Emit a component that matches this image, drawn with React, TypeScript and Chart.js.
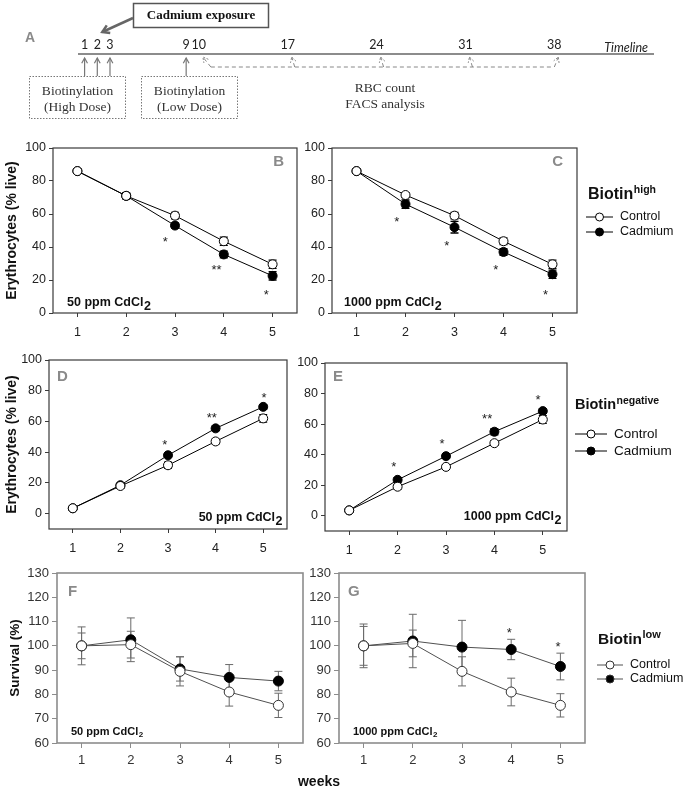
import React, { useEffect, useRef } from "react";
import { Chart, registerables } from "chart.js";
Chart.register(...registerables);

const SANS = "'Liberation Sans', Arial, sans-serif";
const SERIF = "'Liberation Serif', 'Times New Roman', serif";
const CAL = "Lato, 'Open Sans', sans-serif";

// ---------------- data ----------------
const weeks = [1, 2, 3, 4, 5];
const erythroTicks = [0, 20, 40, 60, 80, 100];
const survivalTicks = [60, 70, 80, 90, 100, 110, 120, 130];

// Panel B: Biotin high, 50 ppm
const controlB = [86, 71, 59, 43.5, 29.5];
const cadmiumB = [86, 71, 53, 35.5, 22.5];
const controlBErr = [1, 1.5, 2, 2.5, 2.5];
const cadmiumBErr = [1, 2, 1.5, 2, 2.5];
const starsB = [
  { x: 2.8, y: 45, t: "*" },
  { x: 3.85, y: 28, t: "**" },
  { x: 4.87, y: 13, t: "*" },
];

// Panel C: Biotin high, 1000 ppm
const controlC = [86, 71.5, 59, 43.5, 29.5];
const cadmiumC = [86, 66, 52, 37, 23.5];
const controlCErr = [1, 1.5, 2, 2, 2.5];
const cadmiumCErr = [1, 2.5, 3.5, 2, 2.5];
const starsC = [
  { x: 1.82, y: 57, t: "*" },
  { x: 2.84, y: 42.5, t: "*" },
  { x: 3.84, y: 28, t: "*" },
  { x: 4.86, y: 13, t: "*" },
];

// Panel D: Biotin negative, 50 ppm
const controlD = [3.5, 18, 31.5, 47, 62];
const cadmiumD = [3.5, 18.5, 38, 55.5, 69.5];
const controlDErr = [1, 1.5, 2, 1.5, 2.5];
const cadmiumDErr = [1, 1, 1, 1.5, 1.5];
const starsD = [
  { x: 2.93, y: 46.5, t: "*" },
  { x: 3.92, y: 64, t: "**" },
  { x: 5.02, y: 77.5, t: "*" },
];

// Panel E: Biotin negative, 1000 ppm
const controlE = [3.5, 19, 32, 47.5, 63];
const cadmiumE = [3.5, 23.5, 39, 55, 68.5];
const controlEErr = [1, 1.5, 1.5, 1.5, 2.5];
const cadmiumEErr = [1, 1.5, 1.5, 2, 1.5];
const starsE = [
  { x: 1.92, y: 34, t: "*" },
  { x: 2.92, y: 49, t: "*" },
  { x: 3.85, y: 65.5, t: "**" },
  { x: 4.9, y: 78, t: "*" },
];

// Panel F: Biotin low, 50 ppm (survival)
const controlF = [100, 100.5, 89.5, 81, 75.5];
const cadmiumF = [100, 102.5, 90.5, 87, 85.5];
const controlFErr = [7.8, 5.5, 6, 5.8, 5];
const cadmiumFErr = [5.3, 9, 5, 5.3, 4];
const starsF: { x: number; y: number; t: string }[] = [];

// Panel G: Biotin low, 1000 ppm (survival)
const controlG = [100, 101, 89.5, 81, 75.5];
const cadmiumG = [100, 102, 99.5, 98.5, 91.5];
const controlGErr = [8, 5.5, 6, 5.7, 4.8];
const cadmiumGErr = [9, 11, 11, 4.2, 5.5];
const starsG = [
  { x: 3.96, y: 106.5, t: "*" },
  { x: 4.95, y: 100.6, t: "*" },
];

// Timeline (panel A)
const timelineDays = [1, 2, 3, 9, 10, 17, 24, 31, 38];
const highDoseDays = [1, 2, 3];
const lowDoseDays = [9];
const sampleDays = [10, 17, 24, 31, 38];
const exposureStartDay = 2;

// ---------------- styles ----------------
const X_AXIS_H = 30;

const STYLES: any = {
  ery: {
    line: "#000", markerBorder: "#000", err: "#000", errW: 1.3, cap: 4, radius: 4.5,
    frame: "#3a3a3a", frameW: 1.2, tick: "#3a3a3a", tickLen: 4, label: "#222",
    tickFont: 12.5, xPad: 8,
  },
  surv: {
    line: "#505050", markerBorder: "#333", err: "#6a6a6a", errW: 1, cap: 4, radius: 5,
    frame: "#8c8c8c", frameW: 1.6, tick: "#8c8c8c", tickLen: 5, label: "#333",
    tickFont: 13, xPad: 5,
  },
};

const panels: any[] = [
  {
    canvas: { x: 0, y: 123, w: 340, h: 225 },
    area: { l: 53, t: 148, r: 297, b: 313 },
    yMin: 0, yMax: 100, yTicks: erythroTicks,
    control: controlB, cadmium: cadmiumB, controlErr: controlBErr, cadmiumErr: cadmiumBErr, stars: starsB,
    style: "ery",
    letter: { text: "B", x: 284, y: 162, align: "right" },
    conc: { text: "50 ppm CdCl", x: 67, y: 303, align: "left", size: 12.5, sub: 12.5, drop: 4 },
    yTitle: { text: "Erythrocytes (% live)", x: 12, size: 14 },
  },
  {
    canvas: { x: 290, y: 123, w: 393, h: 225 },
    area: { l: 332, t: 148, r: 577, b: 313 },
    yMin: 0, yMax: 100, yTicks: erythroTicks,
    control: controlC, cadmium: cadmiumC, controlErr: controlCErr, cadmiumErr: cadmiumCErr, stars: starsC,
    style: "ery",
    letter: { text: "C", x: 563, y: 162, align: "right" },
    conc: { text: "1000 ppm CdCl", x: 344, y: 303, align: "left", size: 12.5, sub: 12.5, drop: 4 },
    legend: { sup: "high", x: 588, y: 193, titleSize: 16, supSize: 10.5, lx: 586, len: 27, rows: [217, 232], size: 12.5 },
  },
  {
    canvas: { x: 0, y: 335, w: 340, h: 229 },
    area: { l: 49, t: 360, r: 287, b: 529 },
    yMin: -10, yMax: 100, yTicks: erythroTicks,
    control: controlD, cadmium: cadmiumD, controlErr: controlDErr, cadmiumErr: cadmiumDErr, stars: starsD,
    style: "ery",
    letter: { text: "D", x: 57, y: 377, align: "left" },
    conc: { text: "50 ppm CdCl", x: 282, y: 518, align: "right", size: 12.5, sub: 12.5, drop: 4 },
    yTitle: { text: "Erythrocytes (% live)", x: 12, size: 14 },
  },
  {
    canvas: { x: 290, y: 335, w: 393, h: 231 },
    area: { l: 325, t: 363, r: 567, b: 531 },
    yMin: -10, yMax: 100, yTicks: erythroTicks,
    control: controlE, cadmium: cadmiumE, controlErr: controlEErr, cadmiumErr: cadmiumEErr, stars: starsE,
    style: "ery",
    letter: { text: "E", x: 333, y: 377, align: "left" },
    conc: { text: "1000 ppm CdCl", x: 561, y: 517, align: "right", size: 12.5, sub: 12.5, drop: 4 },
    legend: { sup: "negative", x: 575, y: 404, titleSize: 14.5, supSize: 10.5, lx: 575, len: 32, rows: [434, 451], size: 13.5 },
  },
  {
    canvas: { x: 0, y: 548, w: 345, h: 241 },
    area: { l: 57, t: 573, r: 303, b: 743 },
    yMin: 60, yMax: 130, yTicks: survivalTicks,
    control: controlF, cadmium: cadmiumF, controlErr: controlFErr, cadmiumErr: cadmiumFErr, stars: starsF,
    style: "surv",
    letter: { text: "F", x: 68, y: 592, align: "left" },
    conc: { text: "50 ppm CdCl", x: 71, y: 732, align: "left", size: 11, sub: 8, drop: 3 },
    yTitle: { text: "Survival (%)", x: 15, size: 13.5 },
    weeks: { text: "weeks", x: 319, y: 782 },
  },
  {
    canvas: { x: 290, y: 548, w: 393, h: 241 },
    area: { l: 339, t: 573, r: 585, b: 743 },
    yMin: 60, yMax: 130, yTicks: survivalTicks,
    control: controlG, cadmium: cadmiumG, controlErr: controlGErr, cadmiumErr: cadmiumGErr, stars: starsG,
    style: "surv",
    letter: { text: "G", x: 348, y: 592, align: "left" },
    conc: { text: "1000 ppm CdCl", x: 353, y: 732, align: "left", size: 11, sub: 8, drop: 3 },
    legend: { sup: "low", x: 598, y: 638, titleSize: 15.5, supSize: 11, lx: 597, len: 26, rows: [665, 679], size: 12.5 },
  },
];

// ---------------- drawing helpers ----------------
function drawMarker(ctx: CanvasRenderingContext2D, x: number, y: number, r: number, fill: string, stroke: string) {
  ctx.beginPath();
  ctx.arc(x, y, r, 0, Math.PI * 2);
  ctx.fillStyle = fill;
  ctx.fill();
  ctx.lineWidth = 1;
  ctx.strokeStyle = stroke;
  ctx.stroke();
}

function arrowHead(ctx: CanvasRenderingContext2D, x1: number, y1: number, x2: number, y2: number, len: number, ang: number) {
  const a = Math.atan2(y2 - y1, x2 - x1);
  ctx.beginPath();
  ctx.moveTo(x2 - len * Math.cos(a - ang), y2 - len * Math.sin(a - ang));
  ctx.lineTo(x2, y2);
  ctx.lineTo(x2 - len * Math.cos(a + ang), y2 - len * Math.sin(a + ang));
  ctx.stroke();
}

function makePanelPlugin(cfg: any) {
  const st = STYLES[cfg.style];
  const ox = cfg.canvas.x;
  const oy = cfg.canvas.y;
  return {
    id: "panelDecor",
    beforeDatasetsDraw(chart: any) {
      const ctx = chart.ctx as CanvasRenderingContext2D;
      const xs = chart.scales.x;
      const ys = chart.scales.y;
      ctx.save();
      ctx.strokeStyle = st.err;
      ctx.lineWidth = st.errW;
      chart.data.datasets.forEach((ds: any) => {
        ds.data.forEach((p: any, i: number) => {
          const e = ds.errors[i];
          const x = xs.getPixelForValue(p.x);
          const yt = ys.getPixelForValue(p.y + e);
          const yb = ys.getPixelForValue(p.y - e);
          ctx.beginPath();
          ctx.moveTo(x, yt);
          ctx.lineTo(x, yb);
          ctx.moveTo(x - st.cap, yt);
          ctx.lineTo(x + st.cap, yt);
          ctx.moveTo(x - st.cap, yb);
          ctx.lineTo(x + st.cap, yb);
          ctx.stroke();
        });
      });
      ctx.restore();
    },
    afterDraw(chart: any) {
      const ctx = chart.ctx as CanvasRenderingContext2D;
      const ca = chart.chartArea;
      const xs = chart.scales.x;
      const ys = chart.scales.y;
      ctx.save();
      // frame
      ctx.strokeStyle = st.frame;
      ctx.lineWidth = st.frameW;
      ctx.strokeRect(ca.left, ca.top, ca.right - ca.left, ca.bottom - ca.top);

      // panel letter
      ctx.fillStyle = "#8a8a8a";
      ctx.font = `bold 15px ${SANS}`;
      ctx.textBaseline = "middle";
      ctx.textAlign = cfg.letter.align;
      ctx.fillText(cfg.letter.text, cfg.letter.x - ox, cfg.letter.y - oy);

      // concentration label with subscript
      const c = cfg.conc;
      ctx.fillStyle = "#111";
      ctx.font = `bold ${c.size}px ${SANS}`;
      const w1 = ctx.measureText(c.text).width;
      ctx.font = `bold ${c.sub}px ${SANS}`;
      const w2 = ctx.measureText("2").width;
      const startX = c.align === "left" ? c.x - ox : c.x - ox - w1 - w2;
      ctx.textAlign = "left";
      ctx.textBaseline = "middle";
      ctx.font = `bold ${c.size}px ${SANS}`;
      ctx.fillText(c.text, startX, c.y - oy);
      ctx.font = `bold ${c.sub}px ${SANS}`;
      ctx.fillText("2", startX + w1 + 0.5, c.y - oy + c.drop);

      // significance stars
      ctx.fillStyle = "#222";
      ctx.font = `13px ${SANS}`;
      ctx.textAlign = "center";
      ctx.textBaseline = "alphabetic";
      cfg.stars.forEach((s: any) => {
        ctx.fillText(s.t, xs.getPixelForValue(s.x), ys.getPixelForValue(s.y) + 7);
      });

      // y title
      if (cfg.yTitle) {
        ctx.save();
        ctx.translate(cfg.yTitle.x - ox, (ca.top + ca.bottom) / 2);
        ctx.rotate(-Math.PI / 2);
        ctx.fillStyle = "#111";
        ctx.font = `bold ${cfg.yTitle.size}px ${SANS}`;
        ctx.textAlign = "center";
        ctx.textBaseline = "middle";
        ctx.fillText(cfg.yTitle.text, 0, 0);
        ctx.restore();
      }

      // weeks label
      if (cfg.weeks) {
        ctx.fillStyle = "#111";
        ctx.font = `bold 14px ${SANS}`;
        ctx.textAlign = "center";
        ctx.textBaseline = "middle";
        ctx.fillText(cfg.weeks.text, cfg.weeks.x - ox, cfg.weeks.y - oy);
      }

      // legend
      if (cfg.legend) {
        const L = cfg.legend;
        ctx.fillStyle = "#111";
        ctx.textAlign = "left";
        ctx.textBaseline = "alphabetic";
        ctx.font = `bold ${L.titleSize}px ${SANS}`;
        const base = L.y - oy + L.titleSize * 0.36;
        ctx.fillText("Biotin", L.x - ox, base);
        const bw = ctx.measureText("Biotin").width;
        ctx.font = `bold ${L.supSize}px ${SANS}`;
        ctx.fillText(L.sup, L.x - ox + bw + 0.5, base - L.titleSize * 0.38);
        const entries = [
          { name: "Control", fill: "#fff" },
          { name: "Cadmium", fill: "#000" },
        ];
        entries.forEach((en, i) => {
          const yy = L.rows[i] - oy;
          const x0 = L.lx - ox;
          ctx.strokeStyle = st.line;
          ctx.lineWidth = 1;
          ctx.beginPath();
          ctx.moveTo(x0, yy);
          ctx.lineTo(x0 + L.len, yy);
          ctx.stroke();
          drawMarker(ctx, x0 + L.len / 2, yy, 4, en.fill, st.markerBorder);
          ctx.fillStyle = "#111";
          ctx.font = `${L.size}px ${SANS}`;
          ctx.textBaseline = "middle";
          ctx.fillText(en.name, x0 + L.len + 7, yy);
        });
      }
      ctx.restore();
    },
  };
}

function Panel({ cfg }: { cfg: any }) {
  const ref = useRef<HTMLCanvasElement | null>(null);
  const c = cfg.canvas;
  useEffect(() => {
    const st = STYLES[cfg.style];
    const tickFont = { family: SANS, size: st.tickFont };
    const chart = new Chart(ref.current as HTMLCanvasElement, {
      type: "line",
      data: {
        datasets: [
          {
            label: "Control",
            data: weeks.map((w, i) => ({ x: w, y: cfg.control[i] })),
            errors: cfg.controlErr,
            borderColor: st.line,
            borderWidth: 1,
            pointBackgroundColor: "#fff",
            pointBorderColor: st.markerBorder,
            pointBorderWidth: 1,
            pointRadius: st.radius,
            fill: false,
            tension: 0,
          } as any,
          {
            label: "Cadmium",
            data: weeks.map((w, i) => ({ x: w, y: cfg.cadmium[i] })),
            errors: cfg.cadmiumErr,
            borderColor: st.line,
            borderWidth: 1,
            pointBackgroundColor: "#000",
            pointBorderColor: "#000",
            pointBorderWidth: 1,
            pointRadius: st.radius,
            fill: false,
            tension: 0,
          } as any,
        ],
      },
      options: {
        animation: false,
        responsive: false,
        events: [],
        layout: {
          autoPadding: false,
          padding: {
            left: 0,
            top: cfg.area.t - c.y,
            right: c.x + c.w - cfg.area.r,
            bottom: c.y + c.h - cfg.area.b - X_AXIS_H,
          },
        },
        plugins: { legend: { display: false }, tooltip: { enabled: false } },
        scales: {
          x: {
            type: "linear",
            min: 0.5,
            max: 5.5,
            afterBuildTicks: (s: any) => {
              s.ticks = weeks.map((v) => ({ value: v }));
            },
            afterFit: (s: any) => {
              s.height = X_AXIS_H;
            },
            grid: { drawOnChartArea: false, drawTicks: true, tickLength: st.tickLen, color: st.tick, lineWidth: 1 },
            border: { display: false },
            ticks: { font: tickFont, color: st.label, padding: st.xPad, maxRotation: 0 },
          },
          y: {
            type: "linear",
            min: cfg.yMin,
            max: cfg.yMax,
            afterBuildTicks: (s: any) => {
              s.ticks = cfg.yTicks.map((v: number) => ({ value: v }));
            },
            afterFit: (s: any) => {
              s.width = cfg.area.l - c.x;
            },
            grid: { drawOnChartArea: false, drawTicks: true, tickLength: st.tickLen, color: st.tick, lineWidth: 1 },
            border: { display: false },
            ticks: { font: tickFont, color: st.label, padding: 3 },
          },
        },
      } as any,
      plugins: [makePanelPlugin(cfg)],
    });
    return () => chart.destroy();
  }, []);
  return (
    <canvas
      ref={ref}
      width={c.w}
      height={c.h}
      style={{ position: "absolute", left: c.x, top: c.y, width: c.w, height: c.h }}
    />
  );
}

const timelinePlugin = {
  id: "timeline",
  afterDraw(chart: any) {
    const ctx = chart.ctx as CanvasRenderingContext2D;
    const ca = chart.chartArea;
    const xs = chart.scales.x;
    const X = (d: number) => xs.getPixelForValue(d);
    const LINE_Y = 54;
    ctx.save();

    // panel letter
    ctx.fillStyle = "#8a8a8a";
    ctx.font = `bold 14px ${SANS}`;
    ctx.textAlign = "center";
    ctx.textBaseline = "middle";
    ctx.fillText("A", 30, 38);

    // timeline axis
    ctx.strokeStyle = "#666";
    ctx.lineWidth = 1.3;
    ctx.beginPath();
    ctx.moveTo(ca.left, LINE_Y);
    ctx.lineTo(ca.right, LINE_Y);
    ctx.stroke();

    // day labels
    ctx.fillStyle = "#222";
    ctx.font = `12.5px ${CAL}`;
    timelineDays.forEach((d) => ctx.fillText(String(d), X(d), 45));

    ctx.font = `italic 12.5px ${CAL}`;
    ctx.textAlign = "right";
    ctx.fillText("Timeline", ca.right - 6, 48);

    // biotinylation arrows
    ctx.strokeStyle = "#777";
    ctx.lineWidth = 1.2;
    [...highDoseDays, ...lowDoseDays].forEach((d) => {
      const x = X(d);
      ctx.beginPath();
      ctx.moveTo(x, 76);
      ctx.lineTo(x, 58);
      ctx.stroke();
      arrowHead(ctx, x, 76, x, 58, 6, 0.5);
    });

    // dotted boxes
    ctx.setLineDash([1.5, 1.5]);
    ctx.strokeStyle = "#777";
    ctx.lineWidth = 1;
    ctx.strokeRect(29.5, 76.5, 96, 42);
    ctx.strokeRect(141.5, 76.5, 96, 42);
    ctx.setLineDash([]);

    ctx.fillStyle = "#333";
    ctx.font = `13.5px ${SERIF}`;
    ctx.textAlign = "center";
    ctx.fillText("Biotinylation", 77.5, 91);
    ctx.fillText("(High Dose)", 77.5, 107);
    ctx.fillText("Biotinylation", 189.5, 91);
    ctx.fillText("(Low Dose)", 189.5, 107);

    // Cadmium exposure box + arrow
    ctx.strokeStyle = "#555";
    ctx.lineWidth = 1.5;
    ctx.strokeRect(133.5, 3.5, 135, 24);
    ctx.fillStyle = "#111";
    ctx.font = `bold 13px ${SERIF}`;
    ctx.fillText("Cadmium exposure", 201, 15.5);
    const tipX = X(exposureStartDay) + 5;
    ctx.strokeStyle = "#666";
    ctx.lineWidth = 2.5;
    ctx.beginPath();
    ctx.moveTo(133, 18);
    ctx.lineTo(tipX, 32);
    ctx.stroke();
    arrowHead(ctx, 133, 18, tipX, 32, 8, 0.55);

    // sampling dashed arrows
    ctx.strokeStyle = "#888";
    ctx.lineWidth = 1;
    ctx.setLineDash([4, 3]);
    const first = sampleDays[0];
    const last = sampleDays[sampleDays.length - 1];
    ctx.beginPath();
    ctx.moveTo(X(first) + 12, 67);
    ctx.lineTo(X(last) - 2, 67);
    ctx.stroke();
    sampleDays.forEach((d) => {
      const tip = X(d) + 4;
      const from = d === first ? tip + 8 : d === last ? tip - 4 : tip + 3;
      ctx.setLineDash([4, 3]);
      ctx.beginPath();
      ctx.moveTo(from, 67);
      ctx.lineTo(tip, 57);
      ctx.stroke();
      ctx.setLineDash([2, 1.5]);
      arrowHead(ctx, from, 67, tip, 57, 6, 0.5);
    });
    ctx.setLineDash([]);

    ctx.fillStyle = "#333";
    ctx.font = `13.5px ${SERIF}`;
    ctx.textAlign = "center";
    ctx.fillText("RBC count", 385, 88);
    ctx.fillText("FACS analysis", 385, 104);
    ctx.restore();
  },
};

function Timeline() {
  const ref = useRef<HTMLCanvasElement | null>(null);
  useEffect(() => {
    const chart = new Chart(ref.current as HTMLCanvasElement, {
      type: "scatter",
      data: { datasets: [{ data: timelineDays.map((d) => ({ x: d, y: 0 })), pointRadius: 0 }] },
      options: {
        animation: false,
        responsive: false,
        events: [],
        layout: { autoPadding: false, padding: { left: 78, right: 29, top: 0, bottom: 0 } },
        plugins: { legend: { display: false }, tooltip: { enabled: false } },
        scales: {
          x: { type: "linear", min: 0.48, max: 45.85, display: false },
          y: { type: "linear", min: 0, max: 1, display: false },
        },
      } as any,
      plugins: [timelinePlugin],
    });
    return () => chart.destroy();
  }, []);
  return (
    <canvas ref={ref} width={683} height={125} style={{ position: "absolute", left: 0, top: 0, width: 683, height: 125 }} />
  );
}

export default function App() {
  return (
    <div style={{ position: "absolute", left: 0, top: 0, width: 683, height: 789, background: "#fff", overflow: "hidden" }}>
      <Timeline />
      {panels.map((p, i) => (
        <Panel key={i} cfg={p} />
      ))}
    </div>
  );
}
